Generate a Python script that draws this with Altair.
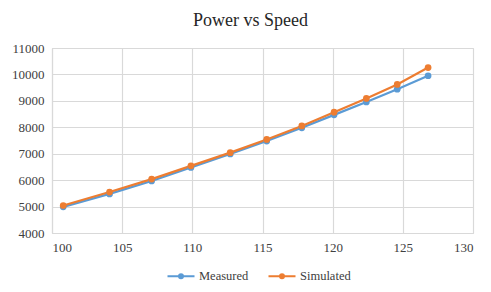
import altair as alt
import pandas as pd

speed = [100.8, 104.1, 107.1, 109.9, 112.7, 115.3, 117.8, 120.1, 122.4, 124.6, 126.8]
measured = [4990, 5480, 5970, 6480, 6990, 7480, 7980, 8470, 8960, 9440, 9950]
simulated = [5040, 5550, 6040, 6540, 7040, 7540, 8050, 8570, 9090, 9620, 10260]
series = ["Measured", "Simulated"]
colors = ["#5B9BD5", "#ED7D31"]

rows = []
for s, vals in zip(series, [measured, simulated]):
    for x, y in zip(speed, vals):
        rows.append({"Speed": x, "Power": y, "Series": s})
df = pd.DataFrame(rows)

FONT = "Liberation Serif, Times New Roman, serif"
sym = "M-1,0H1M-0.14,0A0.14,0.14 0 1,1 0.14,0A0.14,0.14 0 1,1 -0.14,0Z"

color = alt.Color(
    "Series:N",
    scale=alt.Scale(domain=series, range=colors),
    legend=alt.Legend(
        title=None, orient="none", direction="horizontal",
        legendX=114, legendY=213, padding=0,
        symbolType=sym, symbolSize=729, symbolStrokeWidth=2.2,
        symbolFillColor="transparent",
        labelFont=FONT, labelFontSize=12.5, labelColor="#404040",
        labelOffset=3, columnPadding=15,
    ),
)

axis_style = dict(
    grid=True, gridColor="#d9d9d9", gridWidth=1.2,
    domain=True, domainColor="#d9d9d9", domainWidth=1.2,
    ticks=False, labelPadding=8,
    labelFont=FONT, labelFontSize=13, labelColor="#404040",
    title=None, format="d",
)

base = alt.Chart(df).encode(
    x=alt.X("Speed:Q", scale=alt.Scale(domain=[100, 130], nice=False, zero=False),
            axis=alt.Axis(values=[100, 105, 110, 115, 120, 125, 130], **axis_style)),
    y=alt.Y("Power:Q", scale=alt.Scale(domain=[4000, 11000], nice=False, zero=False),
            axis=alt.Axis(values=list(range(4000, 11001, 1000)), **axis_style)),
    color=color,
    order=alt.Order("Series:N"),
)

lines = base.mark_line(strokeWidth=2.2)
points = base.mark_circle(size=45, opacity=1)

chart = alt.layer(lines, points).properties(
    width=421, height=185,
    autosize=alt.AutoSizeParams(type="none"),
    padding={"left": 44, "top": 40, "right": 10, "bottom": 51},
    title=alt.Title("Power vs Speed", font=FONT, fontSize=18, fontWeight="normal",
                    color="#262626", anchor="middle", dx=-12, offset=12),
).configure_view(stroke=None).configure(background="white")

chart.save("out.html", embed_options={"renderer": "svg", "actions": False})
